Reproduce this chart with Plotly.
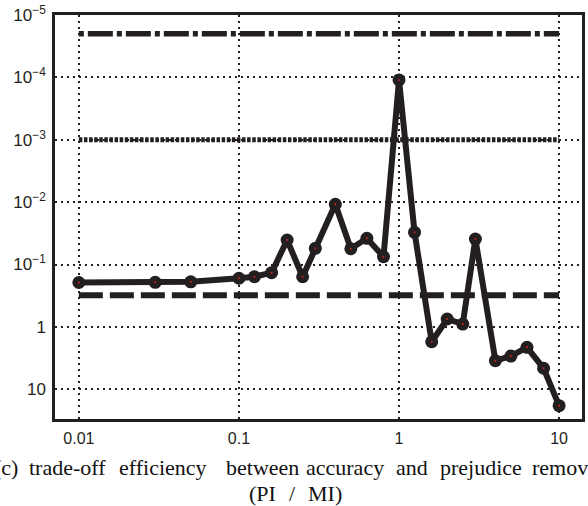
import plotly.graph_objects as go

# ---- data ----
x_vals = [0.01, 0.03, 0.05, 0.1, 0.125, 0.16, 0.2, 0.25, 0.3, 0.4, 0.5, 0.63, 0.8,
          1, 1.25, 1.6, 2, 2.5, 3, 4, 5, 6.3, 8, 10]
y_vals = [0.194, 0.193, 0.189, 0.166, 0.157, 0.135, 0.0405, 0.157, 0.055, 0.0108,
          0.0558, 0.038, 0.075, 1.1e-4, 0.0305, 1.73, 0.746, 0.90, 0.039, 3.48,
          2.93, 2.12, 4.6, 18.3]
ref_x = [0.01, 10]
ref_dashdot = 2e-5
ref_dotted = 1e-3
ref_dashed = 0.31

x_tickvals = [0.01, 0.1, 1, 10]
x_ticktext = ["0.01", "0.1", "1", "10"]
y_tickvals = [1e-5, 1e-4, 1e-3, 1e-2, 1e-1, 1, 10]
y_ticktext = ["10<sup>−5</sup>", "10<sup>−4</sup>", "10<sup>−3</sup>", "10<sup>−2</sup>",
              "10<sup>−1</sup>", "1", "10"]

caption1 = ["(c)", "trade-off", "efficiency", "between", "accuracy", "and", "prejudice", "removal"]
caption1_px = [-8, 27, 117, 225, 305, 396, 440, 533]
caption2 = ["(PI", "/", "MI)"]
caption2_px = [248, 288, 307]

INK = "#231f20"
W, H = 588, 506
L, R, T, B = 55, 3, 15, 87
PW, PH = W - L - R, H - T - B

fig = go.Figure()

fig.add_trace(go.Scatter(x=ref_x, y=[ref_dashdot] * 2, mode="lines",
                         line=dict(color=INK, width=5.5, dash="5px,4px,25px,4px"),
                         showlegend=False, hoverinfo="skip"))
fig.add_trace(go.Scatter(x=ref_x, y=[ref_dotted] * 2, mode="lines",
                         line=dict(color=INK, width=5, dash="3.5px,1.6px"),
                         showlegend=False, hoverinfo="skip"))
fig.add_trace(go.Scatter(x=ref_x, y=[ref_dashed] * 2, mode="lines",
                         line=dict(color=INK, width=6, dash="24px,7px"),
                         showlegend=False, hoverinfo="skip"))
fig.add_trace(go.Scatter(x=x_vals, y=y_vals, mode="lines+markers",
                         line=dict(color=INK, width=6),
                         marker=dict(color=INK, size=13),
                         showlegend=False))
fig.add_trace(go.Scatter(x=x_vals, y=y_vals, mode="markers",
                         marker=dict(color="#d02020", size=2),
                         showlegend=False, hoverinfo="skip"))

axis_common = dict(showgrid=True, gridcolor=INK, gridwidth=1.8, griddash="2px,4px",
                   showline=True, linecolor=INK, linewidth=2.5, mirror=True,
                   ticks="", zeroline=False)

fig.update_xaxes(type="log", range=[-2.149, 1.143], tickvals=x_tickvals, ticktext=x_ticktext,
                 ticklabelstandoff=3,
                 tickfont=dict(family="Liberation Sans", size=16, color=INK), **axis_common)
fig.update_yaxes(type="log", range=[1.476, -5], tickvals=y_tickvals, ticktext=y_ticktext,
                 ticklabelstandoff=3,
                 tickfont=dict(family="Liberation Sans", size=17, color=INK), **axis_common)

annotations = []
cap_font = dict(family="Liberation Serif", size=22, color="#111111")
for word, px in zip(caption1, caption1_px):
    annotations.append(dict(text=word, x=(px - L) / PW, y=(T + PH - 468) / PH,
                            xref="paper", yref="paper", xanchor="left", yanchor="middle",
                            showarrow=False, font=cap_font))
for word, px in zip(caption2, caption2_px):
    annotations.append(dict(text=word, x=(px - L) / PW, y=(T + PH - 493) / PH,
                            xref="paper", yref="paper", xanchor="left", yanchor="middle",
                            showarrow=False, font=cap_font))

fig.update_layout(width=W, height=H, margin=dict(l=L, r=R, t=T, b=B),
                  paper_bgcolor="white", plot_bgcolor="white",
                  annotations=annotations)

fig.write_html("out.html")
